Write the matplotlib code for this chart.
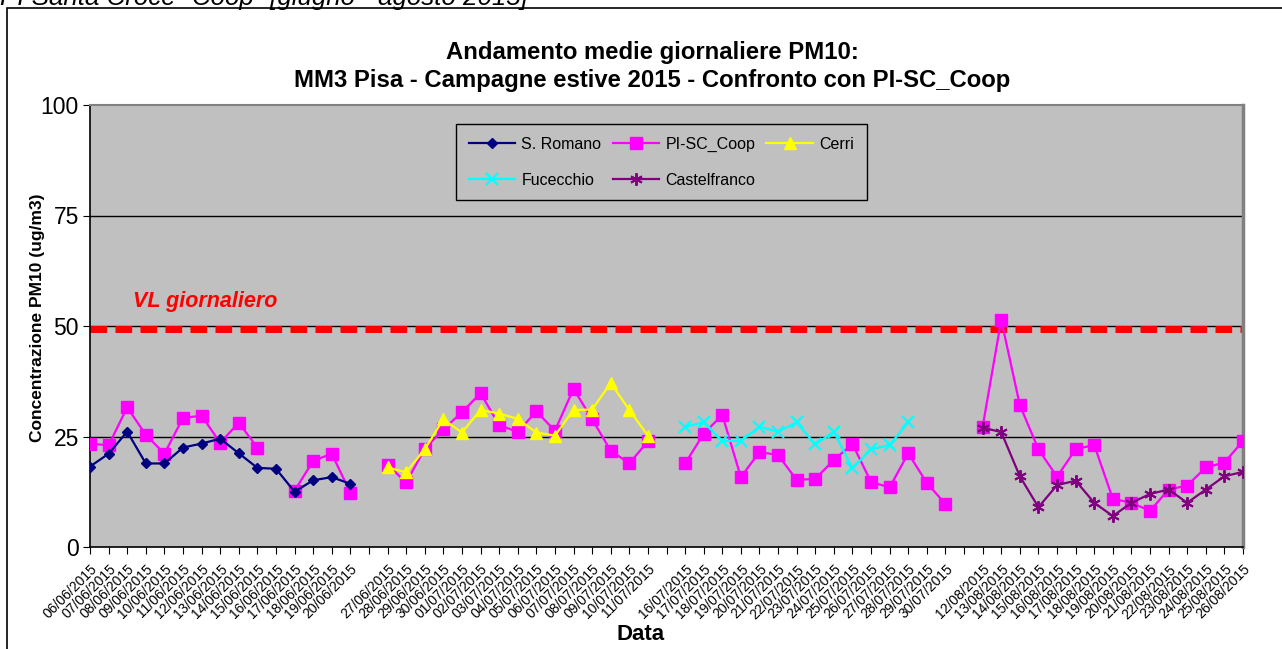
import numpy as np
import matplotlib
matplotlib.use('Agg')
import matplotlib.pyplot as plt
from matplotlib.patches import Rectangle

plt.rcParams['font.family'] = ['Liberation Sans', 'DejaVu Sans']

nan = np.nan

# categorie (date), '' = posizione vuota tra le campagne
date_labels = (
    ['%02d/06/2015' % d for d in range(6, 21)] + [''] +
    ['27/06/2015', '28/06/2015', '29/06/2015', '30/06/2015'] +
    ['%02d/07/2015' % d for d in range(1, 12)] + [''] +
    ['%02d/07/2015' % d for d in range(16, 31)] + [''] +
    ['%02d/08/2015' % d for d in range(12, 27)]
)

gap = [nan]
none15 = [nan] * 15

s_romano = [18.2, 21.1, 26.1, 18.9, 18.9, 22.5, 23.4, 24.5, 21.2, 17.9,
            17.7, 12.5, 15.1, 15.8, 14.3] + gap + none15 + gap + none15 + gap + none15

pi_sc_coop = ([23.4, 23.0, 31.6, 25.4, 21.1, 29.2, 29.7, 23.6, 28.1, 22.5,
               nan, 12.7, 19.5, 21.1, 12.3] + gap +
              [18.6, 14.6, 22.2, 26.6, 30.5, 34.8, 27.6, 26.0, 30.7, 26.3,
               35.8, 28.9, 21.8, 18.9, 23.9] + gap +
              [18.9, 25.6, 29.9, 15.8, 21.5, 20.8, 15.2, 15.4, 19.7, 23.3,
               14.7, 13.5, 21.2, 14.5, 9.7] + gap +
              [27.2, 51.4, 32.1, 22.1, 15.9, 22.1, 23.1, 10.9, 10.0, 8.2,
               13.0, 13.9, 18.0, 19.1, 24.0])

cerri = (none15 + gap +
         [18.0, 16.9, 22.1, 28.9, 25.9, 31.0, 30.2, 29.0, 25.9, 25.2,
          31.0, 31.1, 37.1, 31.0, 25.2] + gap + none15 + gap + none15)

fucecchio = (none15 + gap + none15 + gap +
             [27.2, 28.2, 24.0, 24.0, 27.2, 26.1, 28.2, 23.2, 26.1, 17.8,
              22.1, 23.1, 28.2, nan, nan] + gap + none15)

castelfranco = (none15 + gap + none15 + gap + none15 + gap +
                [27, 26, 16, 9, 14, 15, 10, 7, 10, 12, 13, 10, 13, 16, 17])

vl_giornaliero = 49.3

x = np.arange(len(date_labels))

fig = plt.figure(figsize=(12.82, 6.49), dpi=100)
W, H = 1282, 649

# cornice esterna del grafico
fig.patches.append(Rectangle((7 / W, -0.1), 1.2, 1 - 8 / H + 0.1,
                             transform=fig.transFigure, fill=False,
                             edgecolor='black', linewidth=1.2))
fig.text(0 / W, 1 - 5 / H, 'PI Santa Croce "Coop" [giugno - agosto 2015]',
         fontsize=18.6, style='italic', va='baseline', ha='left')

ax = fig.add_axes([90 / W, 1 - 547 / H, (1243 - 90) / W, (547 - 105) / H])
ax.set_facecolor('#C0C0C0')

for yv in [25, 50, 75]:
    ax.axhline(yv, color='black', linewidth=1.0, zorder=1)

ax.axhline(vl_giornaliero, color='#FF0000', linewidth=5, dashes=(2.4, 1.2), zorder=2)
ax.text(2.3, 55.6, 'VL giornaliero', color='#FF0000', fontsize=15.5,
        fontweight='bold', style='italic', ha='left', va='center')

l1, = ax.plot(x, s_romano, color='#000080', lw=1.6, marker='D', ms=5.5,
              label='S. Romano', zorder=4)
l2, = ax.plot(x, pi_sc_coop, color='#FF00FF', lw=1.6, marker='s', ms=9,
              label='PI-SC_Coop', zorder=3)
l3, = ax.plot(x, cerri, color='#FFFF00', lw=1.6, marker='^', ms=8,
              label='Cerri', zorder=4)
l4, = ax.plot(x, fucecchio, color='#00FFFF', lw=1.6, marker='x', ms=8, mew=1.6,
              label='Fucecchio', zorder=4)
l5, = ax.plot(x, castelfranco, color='#800080', lw=1.6, marker=(6, 2, 0), ms=9,
              mew=1.4, label='Castelfranco', zorder=4)

ax.set_xlim(0, len(date_labels) - 1)
ax.set_ylim(0, 100)
ax.set_yticks([0, 25, 50, 75, 100])
ax.tick_params(axis='y', labelsize=16.5, length=5, direction='out', pad=3)
ax.set_xticks(x)
ax.set_xticklabels(date_labels, rotation=45, ha='right', rotation_mode='anchor',
                   fontsize=10)
ax.tick_params(axis='x', length=5, direction='out', pad=6)

for s in ['left', 'bottom']:
    ax.spines[s].set_color('black')
    ax.spines[s].set_linewidth(1.2)
ax.spines['top'].set_color('#808080')
ax.spines['top'].set_linewidth(1.5)
ax.spines['right'].set_color('#808080')
ax.spines['right'].set_linewidth(2.5)

ax.set_ylabel('Concentrazione PM10 (ug/m3)', fontsize=12.5, fontweight='bold')
ax.yaxis.set_label_coords(-(90 - 45) / 1153, 0.518)

fig.text(652 / W, 1 - 52 / H, 'Andamento medie giornaliere PM10:', fontsize=17.2,
         fontweight='bold', ha='center', va='center')
fig.text(652 / W, 1 - 80 / H, 'MM3 Pisa - Campagne estive 2015 - Confronto con PI-SC_Coop',
         fontsize=17.2, fontweight='bold', ha='center', va='center')
fig.text(641 / W, 1 - 635 / H, 'Data', fontsize=16, fontweight='bold',
         ha='center', va='center')

leg = ax.legend([l1, l4, l2, l5, l3],
                ['S. Romano', 'Fucecchio', 'PI-SC_Coop', 'Castelfranco', 'Cerri'],
                ncol=3, loc='upper left', bbox_to_anchor=(456 / W, 1 - 124 / H),
                bbox_transform=fig.transFigure, borderaxespad=0,
                fontsize=11.5, frameon=True,
                fancybox=False, facecolor='#C0C0C0', edgecolor='black',
                framealpha=1, handlelength=2.9, columnspacing=0.7,
                labelspacing=1.3, borderpad=0.8, handletextpad=0.4)
leg.get_frame().set_linewidth(1.0)

fig.savefig('out.png', dpi=100)
